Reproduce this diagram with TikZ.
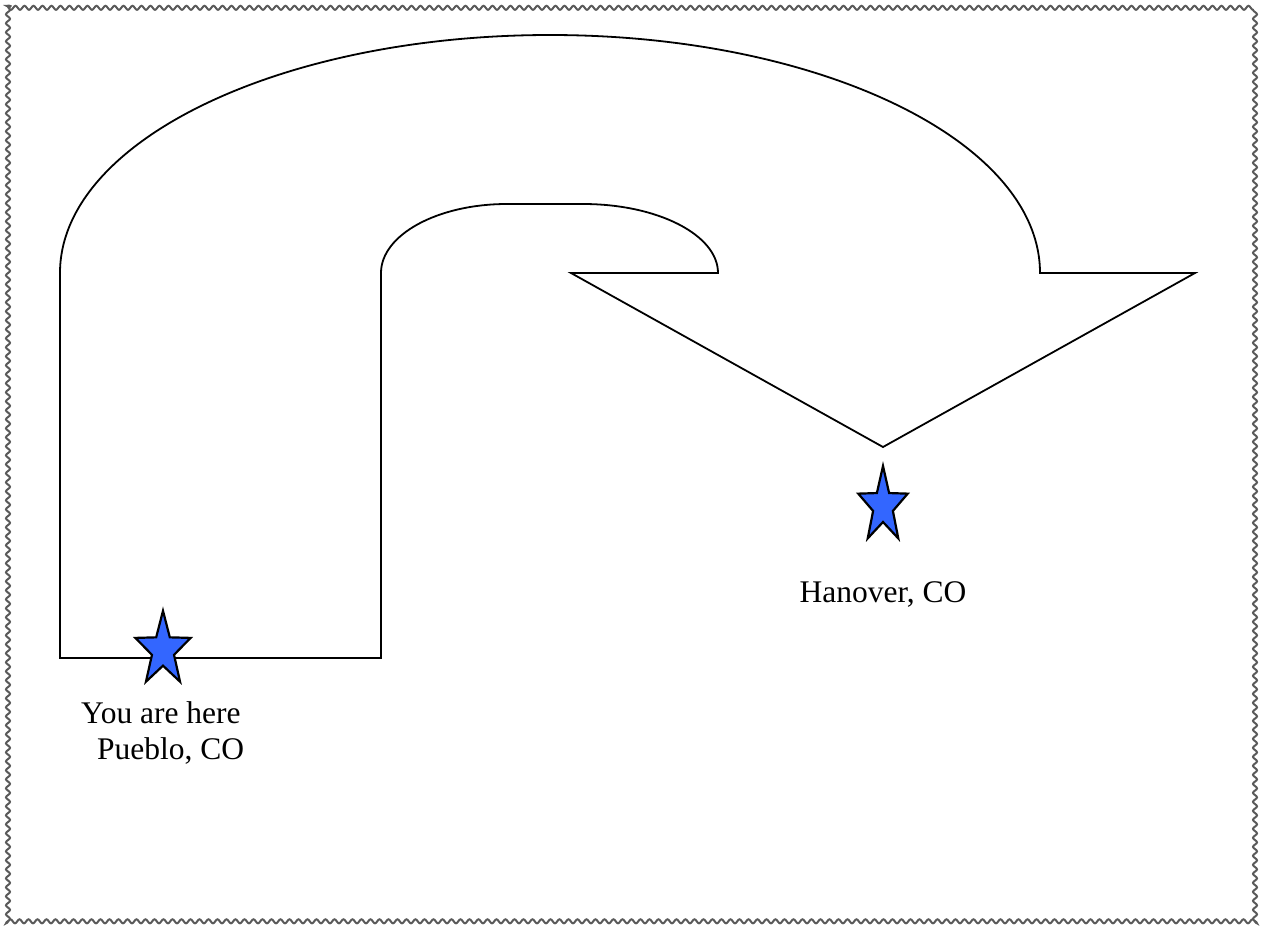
\documentclass[tikz,border=0pt]{standalone}
\usepackage{fontspec}
\setmainfont{Liberation Serif}
\usetikzlibrary{shapes.geometric,decorations.pathmorphing}
\definecolor{starblue}{RGB}{51,102,255}
\definecolor{framegray}{RGB}{90,90,90}
\tikzset{
  routeline/.style={line width=1.8pt, draw=black, line join=miter},
  starmark/.style={star, star points=5, star point ratio=2.5, inner sep=0pt,
    minimum size=58pt, draw=black, line width=2.2pt, fill=starblue, yscale=1.35},
  placelabel/.style={font=\fontsize{31.5}{36}\selectfont, inner sep=0pt, align=left},
  framestyle/.style={draw=framegray, line width=2pt,
    decorate, decoration={snake, segment length=9pt, amplitude=2pt}}
}
\begin{document}
\begin{tikzpicture}[x=1pt, y=-1pt]
\useasboundingbox (0,0) rectangle (1267,927);
\draw[framestyle] (8,7) rectangle (1260,921);
% U-turn arrow
\draw[routeline] (60,658) -- (60,273)
  arc[start angle=180, end angle=360, x radius=490, y radius=238]
  -- (1195,273) -- (883,447) -- (571,273) -- (718,273)
  arc[start angle=0, end angle=-90, x radius=135, y radius=69]
  -- (507,204)
  arc[start angle=270, end angle=180, x radius=126, y radius=69]
  -- (381,658) -- cycle;
% stars
\node[starmark] (pueblo) at (163,650) {};
\node[starmark, minimum size=52pt, yscale=1.14] (hanover) at (883,506) {};
% labels
\node[placelabel, anchor=base west] (here) at (81,759) {You are here\\\hspace*{16pt}Pueblo, CO};
\node[placelabel, anchor=base] (hanlbl) at (883,602) {Hanover, CO};
\end{tikzpicture}
\end{document}
